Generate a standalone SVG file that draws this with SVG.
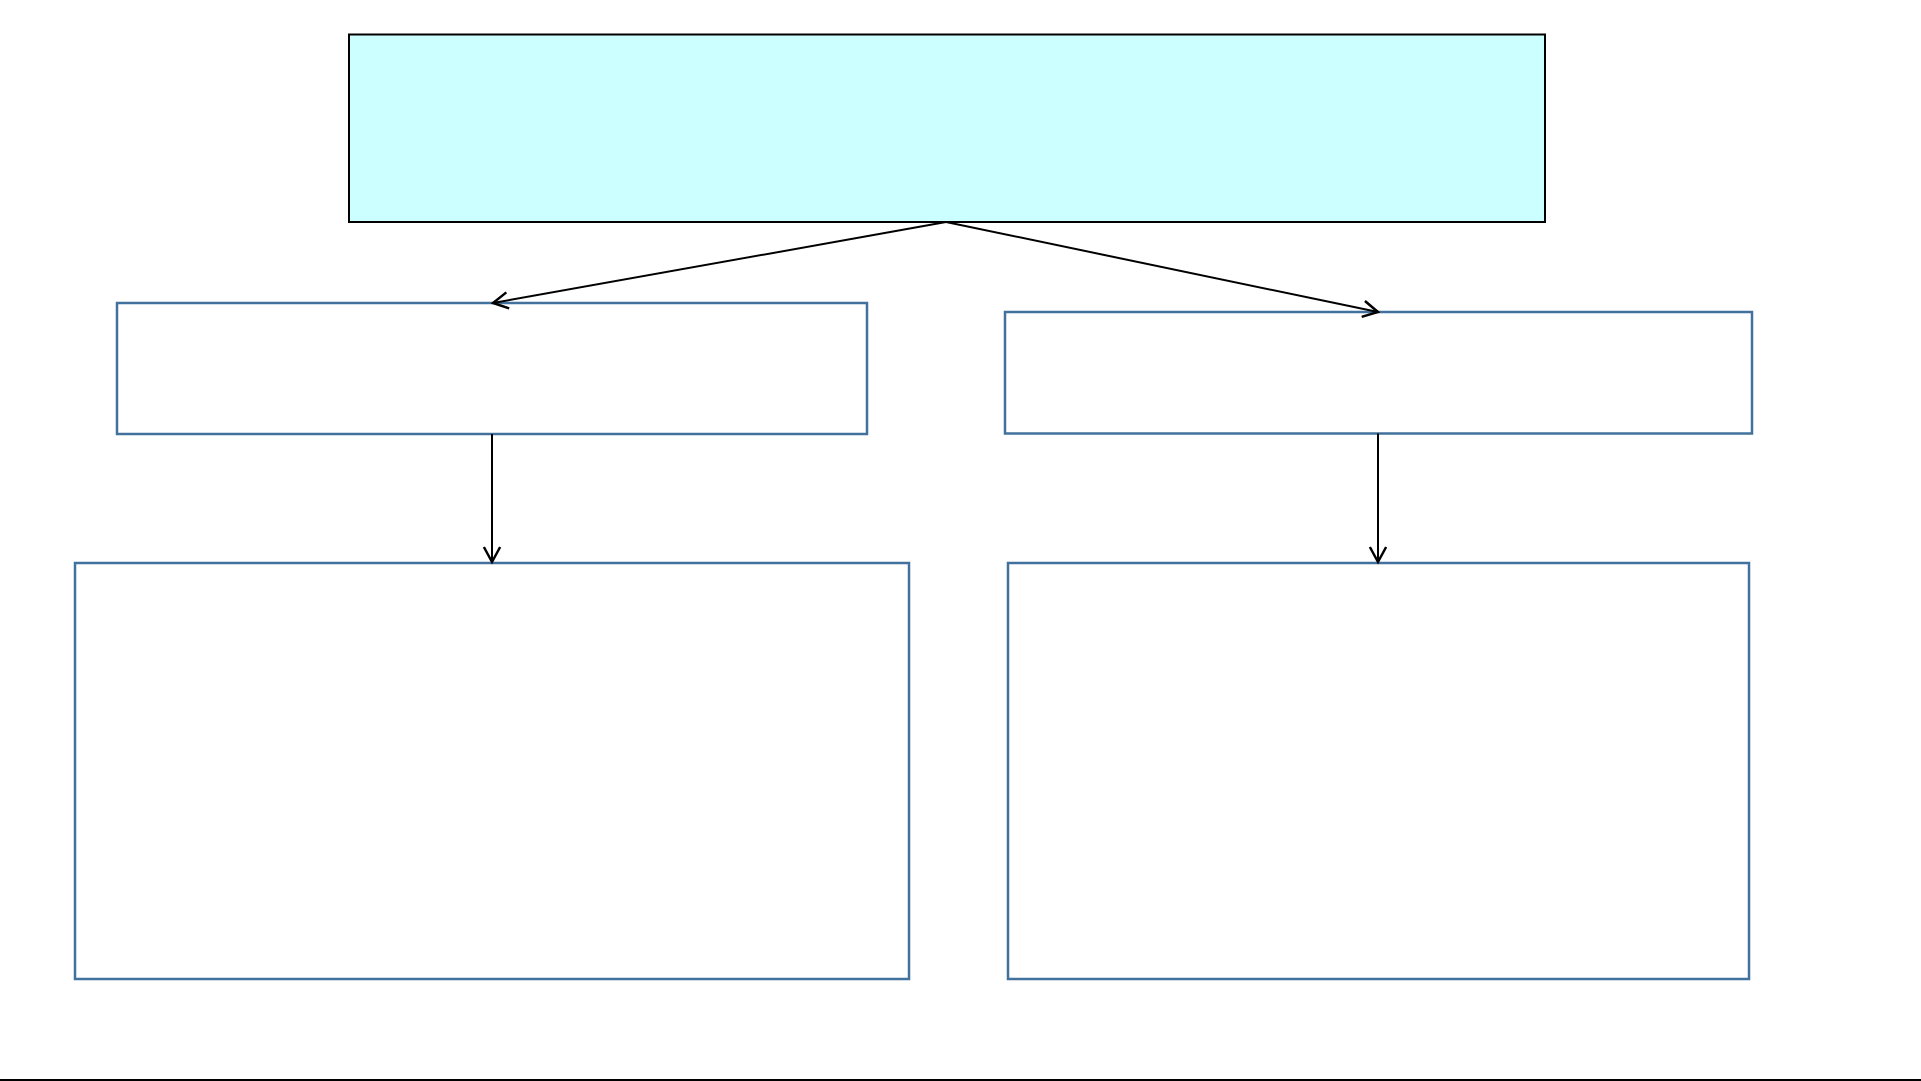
<svg xmlns="http://www.w3.org/2000/svg" width="1921" height="1081" viewBox="0 0 1921 1081">
<style>
.top{fill:#CCFFFF;stroke:#000;stroke-width:2}
.box{fill:#fff;stroke:#41719C;stroke-width:2.5}
.conn{fill:none;stroke:#000;stroke-width:2}
</style>
<defs>
<marker id="arr" markerUnits="userSpaceOnUse" markerWidth="20" markerHeight="20" viewBox="-14 -8 16 16" refX="0" refY="0" orient="auto">
<path d="M-12,-6.5 L0,0 L-12,6.5" fill="none" stroke="#000" stroke-width="2"/>
</marker>
</defs>
<rect width="1921" height="1081" fill="#fff"/>
<g id="node-top"><rect class="top" x="349" y="34.5" width="1196" height="187.5"/></g>
<g id="node-mid-left"><rect class="box" x="117" y="303" width="750" height="131"/></g>
<g id="node-mid-right"><rect class="box" x="1005" y="312" width="747" height="121.5"/></g>
<g id="node-bottom-left"><rect class="box" x="75" y="563" width="834" height="416"/></g>
<g id="node-bottom-right"><rect class="box" x="1008" y="563" width="741" height="416"/></g>
<g id="connectors">
<line class="conn" x1="946" y1="222" x2="493" y2="303" marker-end="url(#arr)"/>
<line class="conn" x1="946" y1="222" x2="1378" y2="312" marker-end="url(#arr)"/>
<line class="conn" x1="492" y1="434" x2="492" y2="562" marker-end="url(#arr)"/>
<line class="conn" x1="1378" y1="433.5" x2="1378" y2="562" marker-end="url(#arr)"/>
</g>
<rect x="0" y="1079" width="1921" height="2" fill="#000"/>
</svg>
